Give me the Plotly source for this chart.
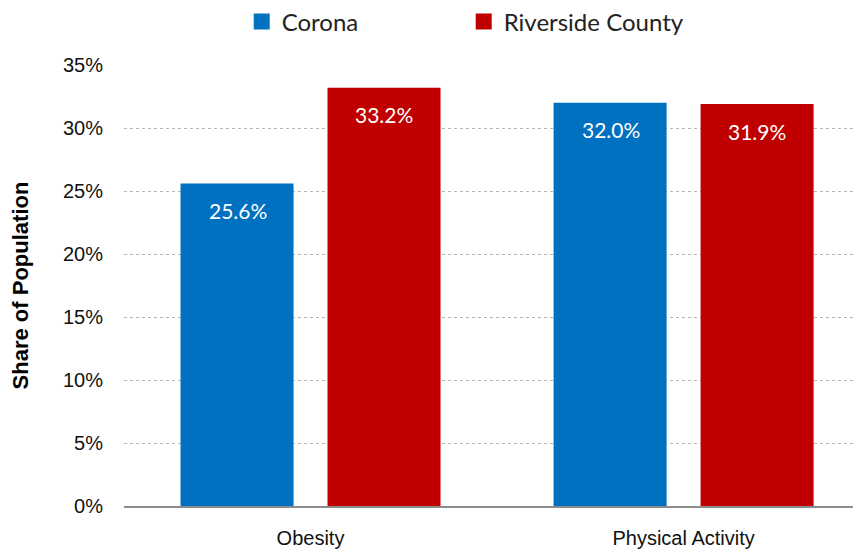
import plotly.graph_objects as go

# Data
categories = ["Obesity", "Physical Activity"]
corona = [25.6, 32.0]
riverside = [33.2, 31.9]
series_names = ["Corona", "Riverside County"]
colors = ["#0070C0", "#C00000"]
y_ticks = [0, 5, 10, 15, 20, 25, 30, 35]

label_font = "Lato, 'Open Sans', sans-serif"
narrow_font = "'Liberation Sans Narrow', 'Arial Narrow', 'Liberation Sans', sans-serif"

fig = go.Figure()
for name, vals, col in zip(series_names, [corona, riverside], colors):
    fig.add_trace(go.Bar(
        x=categories, y=vals, name=name, showlegend=False,
        marker=dict(color=col, line=dict(width=0)),
    ))
    # legend entry with a bigger square swatch
    fig.add_trace(go.Scatter(
        x=[None], y=[None], name=name, mode="markers",
        marker=dict(symbol="square", size=16, color=col),
    ))

# value labels inside bars, a bit below the top (Excel style)
for i, vals in enumerate([corona, riverside]):
    for cat, v in zip(categories, vals):
        fig.add_annotation(
            x=cat, y=v, text=f"{v:.1f}%", showarrow=False,
            xshift=-73 if i == 0 else 73, yshift=-27,
            font=dict(family=label_font, size=21, color="white"),
        )

fig.update_layout(
    width=861, height=555,
    margin=dict(l=116, r=0, t=57, b=57, autoexpand=False),
    plot_bgcolor="white", paper_bgcolor="white",
    barmode="group", bargap=0.212, bargroupgap=0.231,
    showlegend=True,
    legend=dict(
        orientation="h", x=0.158, xanchor="left", y=0.975, yanchor="middle",
        yref="container", font=dict(family=label_font, size=24, color="#222"),
        traceorder="normal", entrywidth=177, itemwidth=30,
    ),
    xaxis=dict(
        range=[-0.5, 1.497], showgrid=False, ticks="", automargin=False,
        tickfont=dict(family=narrow_font, size=20, color="#111"),
        showline=True, linecolor="#8c8c8c", linewidth=2,
        ticklabelstandoff=13,
    ),
    yaxis=dict(
        range=[0, 35], tickvals=y_ticks, automargin=False,
        ticktext=[f"{t}%" for t in y_ticks],
        tickfont=dict(family=narrow_font, size=20, color="#111"),
        showgrid=True, gridcolor="#b5b5b5", griddash="dot", gridwidth=1,
        zeroline=False, ticks="", ticklen=0, ticklabelstandoff=20,
        title=dict(text="<b>Share of Population</b>",
                   font=dict(family=narrow_font, size=22, color="#000"),
                   standoff=36),
    ),
)

fig.write_html("out.html")
